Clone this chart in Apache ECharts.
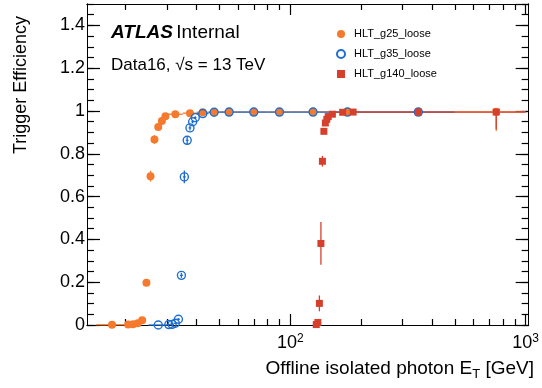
<!DOCTYPE html>
<html>
<head>
<meta charset="utf-8">
<script src="https://cdn.jsdelivr.net/npm/echarts@6/dist/echarts.min.js"></script>
<style>
html, body { margin: 0; padding: 0; background: #fff; }
#chart { width: 542px; height: 388px; }
</style>
</head>
<body>
<div id="chart"></div>
<script>
// HLT_g25_loose
const g25Et = [17.5, 20.5, 21.5, 22.5, 23.5, 24.5, 25.5, 26.5, 27.5, 28.5, 29.5, 32.5, 37.5, 42.5, 47.5, 55, 70, 90, 125, 175, 350, 750]
const g25Lo = [15, 20, 21, 22, 23, 24, 25, 26, 27, 28, 29, 30, 35, 40, 45, 50, 60, 80, 100, 150, 200, 500]
const g25Hi = [20, 21, 22, 23, 24, 25, 26, 27, 28, 29, 30, 35, 40, 45, 50, 60, 80, 100, 150, 200, 500, 1000]
const g25Eff = [0.001, 0.002, 0.003, 0.008, 0.022, 0.197, 0.695, 0.867, 0.925, 0.953, 0.975, 0.985, 0.990, 0.994, 0.995, 0.995, 0.995, 0.995, 0.996, 0.996, 0.996, 0.996]
const g25Dn = [0, 0, 0, 0.002, 0.004, 0.012, 0.025, 0.02, 0.012, 0.008, 0.005, 0.003, 0.002, 0.002, 0.002, 0.002, 0.002, 0.002, 0.002, 0.002, 0.002, 0.09]
const g25Up = [0, 0, 0, 0.002, 0.004, 0.012, 0.025, 0.02, 0.012, 0.008, 0.005, 0.003, 0.002, 0.002, 0.002, 0.002, 0.002, 0.002, 0.002, 0.002, 0.002, 0.004]

// HLT_g35_loose
const g35Et = [27.5, 30.5, 31.5, 32.5, 33.5, 34.5, 35.5, 36.5, 37.5, 38.5, 39.5, 42.5, 47.5, 55, 70, 90, 125, 175, 350]
const g35Lo = [25, 30, 31, 32, 33, 34, 35, 36, 37, 38, 39, 40, 45, 50, 60, 80, 100, 150, 200]
const g35Hi = [30, 31, 32, 33, 34, 35, 36, 37, 38, 39, 40, 45, 50, 60, 80, 100, 150, 200, 500]
const g35Eff = [0, 0.002, 0.003, 0.008, 0.027, 0.232, 0.692, 0.863, 0.921, 0.950, 0.969, 0.988, 0.994, 0.995, 0.995, 0.995, 0.995, 0.995, 0.995]
const g35Err = [0, 0, 0, 0.002, 0.005, 0.012, 0.03, 0.02, 0.012, 0.008, 0.006, 0.003, 0.002, 0.002, 0.002, 0.002, 0.002, 0.002, 0.003]

// HLT_g140_loose
const g140Et = [129, 131, 133, 135, 137, 139, 141, 143, 145, 151, 167, 185, 350, 750]
const g140Lo = [128, 130, 132, 134, 136, 138, 140, 142, 144, 146, 156, 175, 200, 500]
const g140Hi = [130, 132, 134, 136, 138, 140, 142, 144, 146, 156, 175, 200, 500, 1000]
const g140Eff = [0.002, 0.012, 0.101, 0.381, 0.765, 0.905, 0.944, 0.961, 0.974, 0.985, 0.994, 0.995, 0.995, 0.995]
const g140Dn = [0.002, 0.008, 0.037, 0.1, 0.025, 0.012, 0.008, 0.006, 0.005, 0.003, 0.002, 0.002, 0.002, 0.08]
const g140Up = [0.002, 0.008, 0.037, 0.1, 0.025, 0.012, 0.008, 0.006, 0.005, 0.003, 0.002, 0.002, 0.002, 0.004]

const majorX = [100, 1000]
const minorX = [20, 30, 40, 50, 60, 70, 80, 90, 200, 300, 400, 500, 600, 700, 800, 900]

const cOrange = '#f57a2e'
const cBlue = '#1f6fcf'
const cRed = '#d5402d'
const font = 'Liberation Sans, Arial, Helvetica, sans-serif'

const chart = echarts.init(document.getElementById('chart'))

function points(et, eff) {
  return et.map((v, i) => [v, eff[i]])
}
function bars(et, eff, lo, hi, dn, up) {
  return et.map((v, i) => [v, eff[i], lo[i], hi[i], dn[i], up[i]])
}
function errSeries(name, data, color) {
  return {
    name: name + '_err',
    type: 'custom',
    data: data,
    encode: { x: 0, y: 1 },
    silent: true,
    z: 2,
    renderItem(params, api) {
      const x = api.value(0)
      const y = api.value(1)
      const l = api.coord([api.value(2), y])
      const r = api.coord([api.value(3), y])
      const b = api.coord([x, y - api.value(4)])
      const t = api.coord([x, y + api.value(5)])
      const st = { stroke: color, lineWidth: 1.3 }
      return {
        type: 'group',
        children: [
          { type: 'line', shape: { x1: l[0], y1: l[1], x2: r[0], y2: r[1] }, style: st },
          { type: 'line', shape: { x1: b[0], y1: b[1], x2: t[0], y2: t[1] }, style: st }
        ]
      }
    }
  }
}

const logAxis = (pos, ticks, len, labels) => ({
  type: 'log',
  logBase: 10,
  position: pos,
  min: 13.7,
  max: 1030,
  gridIndex: 0,
  axisLine: { show: true, onZero: false, lineStyle: { color: '#000', width: 1 } },
  axisTick: { show: true, inside: true, length: len, customValues: ticks, lineStyle: { color: '#000', width: 1.2 } },
  axisLabel: labels ? {
    show: true,
    customValues: ticks,
    margin: 8,
    color: '#000',
    fontFamily: font,
    formatter: v => '{b|10}{s|' + Math.round(Math.log10(v)) + '}',
    rich: {
      b: { fontSize: 18, fontFamily: font, color: '#000', lineHeight: 20 },
      s: { fontSize: 12, fontFamily: font, color: '#000', verticalAlign: 'top', lineHeight: 20, padding: [0, 0, 8, 0] }
    }
  } : { show: false },
  splitLine: { show: false },
  minorTick: { show: false }
})

const valAxis = (pos, interval, len, labels) => ({
  type: 'value',
  position: pos,
  min: 0,
  max: 1.5,
  interval: interval,
  axisLine: { show: true, onZero: false, lineStyle: { color: '#000', width: 1 } },
  axisTick: { show: true, inside: true, length: len, lineStyle: { color: '#000', width: 1.2 } },
  axisLabel: labels ? {
    show: true, margin: 2, color: '#000', fontSize: 18, fontFamily: font,
    showMaxLabel: false,
    formatter: v => String(Math.round(v * 10) / 10)
  } : { show: false },
  splitLine: { show: false }
})

chart.setOption({
  animation: false,
  grid: { left: 87, right: 8, top: 4, bottom: 63 },
  xAxis: [
    logAxis('bottom', majorX, 11, true),
    logAxis('bottom', minorX, 6, false),
    logAxis('top', majorX, 11, false),
    logAxis('top', minorX, 6, false)
  ],
  yAxis: [
    valAxis('left', 0.2, 13, true),
    valAxis('left', 0.05, 7, false),
    valAxis('right', 0.2, 13, false),
    valAxis('right', 0.05, 7, false)
  ],
  legend: {
    orient: 'vertical',
    left: 331,
    top: 23,
    itemWidth: 8,
    itemHeight: 8,
    itemGap: 8,
    data: ['HLT_g25_loose', 'HLT_g35_loose', 'HLT_g140_loose'],
    textStyle: { fontSize: 11, fontFamily: font, color: '#000', lineHeight: 12, padding: [0, 0, 0, 4] }
  },
  graphic: [
    {
      type: 'text', left: 111, top: 23,
      style: {
        text: '{a|ATLAS} {b|Internal}',
        rich: {
          a: { fontSize: 19, fontWeight: 'bold', fontStyle: 'italic', fontFamily: font, fill: '#000' },
          b: { fontSize: 19, fontFamily: font, fill: '#000' }
        }
      }
    },
    {
      type: 'text', left: 111, top: 57,
      style: { text: 'Data16, √s = 13 TeV', fontSize: 17, fontFamily: font, fill: '#000' }
    },
    {
      type: 'text', x: 21, y: 16, rotation: Math.PI / 2,
      style: { text: 'Trigger Efficiency', fontSize: 18, fontFamily: font, fill: '#000', align: 'right', verticalAlign: 'middle' }
    },
    {
      type: 'text', x: 534, y: 369,
      style: {
        text: 'Offline isolated photon E{t|T} [GeV]',
        fontSize: 19, fontFamily: font, fill: '#000', align: 'right', verticalAlign: 'middle',
        rich: { t: { fontSize: 13, fontFamily: font, fill: '#000', padding: [11, 0, 0, 0] } }
      }
    }
  ],
  series: [
    errSeries('HLT_g25_loose', bars(g25Et, g25Eff, g25Lo, g25Hi, g25Dn, g25Up), cOrange),
    {
      name: 'HLT_g25_loose', type: 'scatter', z: 3,
      symbol: 'circle', symbolSize: 8,
      itemStyle: { color: cOrange, opacity: 1 },
      data: points(g25Et, g25Eff)
    },
    errSeries('HLT_g35_loose', bars(g35Et, g35Eff, g35Lo, g35Hi, g35Err, g35Err), cBlue),
    {
      name: 'HLT_g35_loose', type: 'scatter', z: 4,
      symbol: 'circle', symbolSize: 8,
      itemStyle: { color: 'rgba(0,0,0,0)', borderColor: cBlue, borderWidth: 1.4, opacity: 1 },
      data: points(g35Et, g35Eff)
    },
    errSeries('HLT_g140_loose', bars(g140Et, g140Eff, g140Lo, g140Hi, g140Dn, g140Up), cRed),
    {
      name: 'HLT_g140_loose', type: 'scatter', z: 5,
      symbol: 'rect', symbolSize: 7,
      itemStyle: { color: cRed, opacity: 1 },
      data: points(g140Et, g140Eff)
    }
  ]
})
</script>
</body>
</html>
